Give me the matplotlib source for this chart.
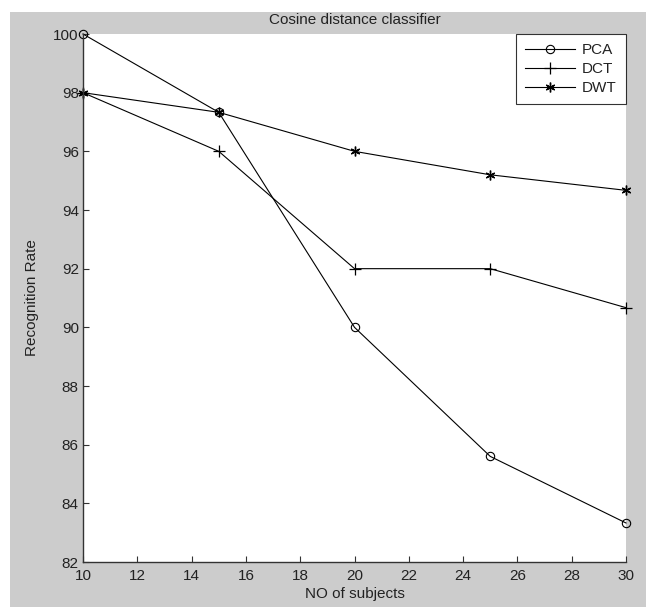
import matplotlib
matplotlib.use("Agg")
import matplotlib.pyplot as plt
from matplotlib.patches import Rectangle

subjects = [10, 15, 20, 25, 30]
pca = [100.0, 97.33, 90.0, 85.6, 83.33]
dct = [98.0, 96.0, 92.0, 92.0, 90.67]
dwt = [98.0, 97.33, 96.0, 95.2, 94.67]
xticks = [10, 12, 14, 16, 18, 20, 22, 24, 26, 28, 30]
yticks = [82, 84, 86, 88, 90, 92, 94, 96, 98, 100]

plt.rcParams['font.family'] = ['Liberation Sans', 'DejaVu Sans']
fs = 11
W, H = 646, 607
fig = plt.figure(figsize=(W / 100, H / 100), dpi=100, facecolor='white')
fig.patches.append(Rectangle((10 / W, 0), 1 - 10 / W, (H - 12) / H,
                             transform=fig.transFigure, facecolor='#cccccc',
                             edgecolor='none', zorder=-10))

ax = fig.add_axes([83 / W, (H - 562) / H, (626 - 83) / W, (562 - 34) / H])
ax.set_zorder(1)
ax.set_facecolor('white')
lw = 0.8
ax.plot(subjects, pca, color='black', lw=lw, marker='o', ms=6,
        mfc='none', mec='black', mew=0.8, label='PCA', clip_on=False)
ax.plot(subjects, dct, color='black', lw=lw, marker='+', ms=9,
        mec='black', mew=0.9, label='DCT', clip_on=False)
ax.plot(subjects, dwt, color='black', lw=lw, marker=(6, 2, 0), ms=7,
        mec='black', mew=1.0, label='DWT', clip_on=False)

ax.set_xlim(10, 30)
ax.set_ylim(82, 100)
ax.set_xticks(xticks)
ax.set_yticks(yticks)
for s in ['top', 'right']:
    ax.spines[s].set_visible(False)
for s in ['left', 'bottom']:
    ax.spines[s].set_color('#333333')
    ax.spines[s].set_linewidth(1.0)
ax.tick_params(direction='in', length=4, width=0.8, colors='#333333',
               labelsize=fs, labelcolor='#222222')
ax.tick_params(axis='x', pad=5)
ax.tick_params(axis='y', pad=3)

ax.set_title('Cosine distance classifier', fontsize=fs, color='#222222', pad=7)
ax.set_xlabel('NO of subjects', fontsize=fs, color='#222222', labelpad=3)
ax.set_ylabel('Recognition Rate', fontsize=fs, color='#222222', labelpad=10)

leg = ax.legend(loc='upper right', bbox_to_anchor=(1.0, 1.0), fontsize=fs,
                frameon=True, fancybox=False, handlelength=3.3,
                borderaxespad=0.0, labelspacing=0.32, handletextpad=0.45,
                borderpad=0.6)
leg.get_frame().set_edgecolor('black')
leg.get_frame().set_linewidth(0.8)
for t in leg.get_texts():
    t.set_color('#222222')

fig.savefig('out.png', dpi=100, facecolor='white')
